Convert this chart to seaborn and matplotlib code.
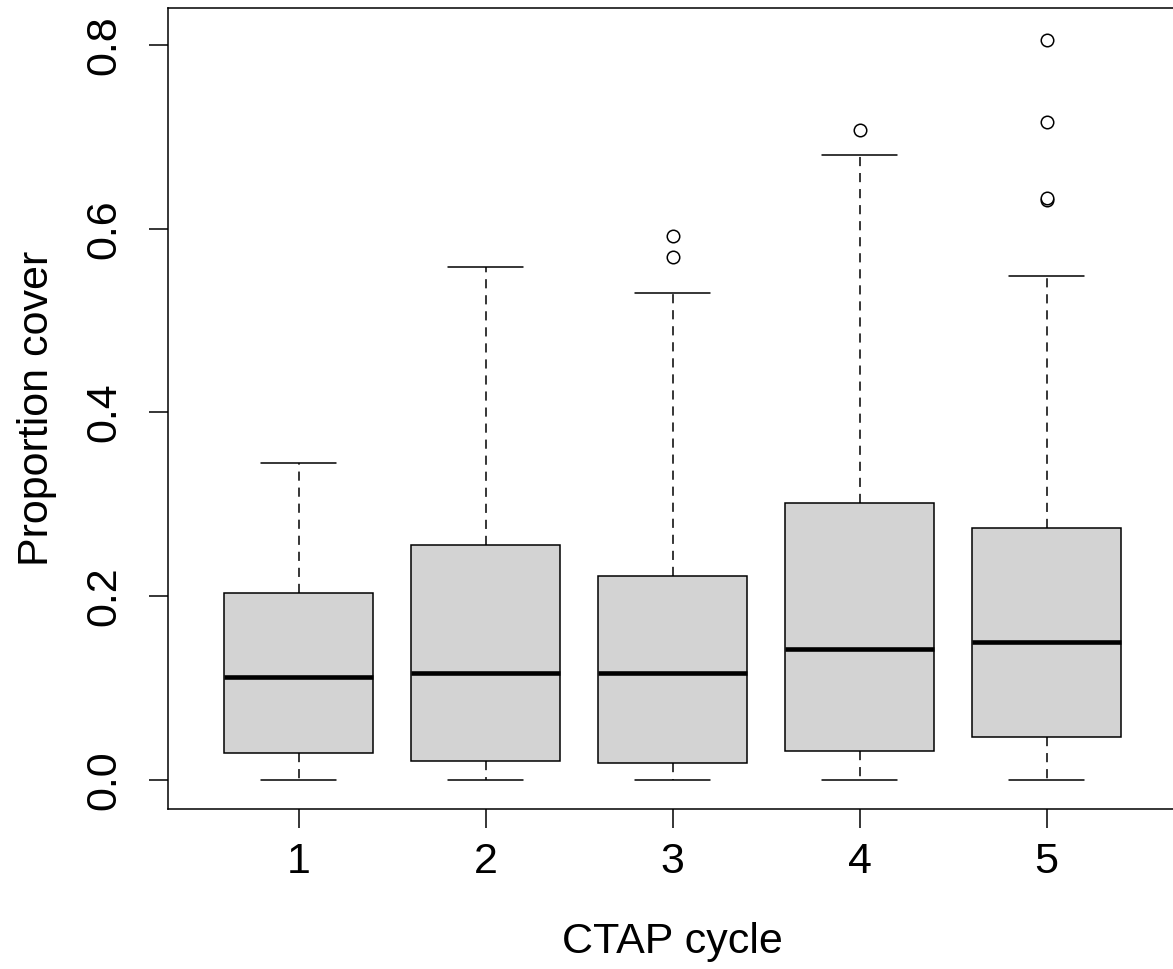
import numpy as np
import pandas as pd
import matplotlib
matplotlib.use("Agg")
import matplotlib.pyplot as plt
import seaborn as sns

# Box statistics (R-style boxplot, one box per CTAP cycle)
cycles = ["1", "2", "3", "4", "5"]
whisker_low = [0.0, 0.0, 0.0, 0.0, 0.0]
q1 = [0.029, 0.020, 0.018, 0.031, 0.046]
median = [0.112, 0.116, 0.116, 0.142, 0.150]
q3 = [0.2035, 0.2555, 0.222, 0.301, 0.2744]
whisker_high = [0.345, 0.558, 0.530, 0.680, 0.549]
outliers = [[], [], [0.569, 0.592], [0.708], [0.631, 0.633, 0.716, 0.806]]

sns.set_theme(style="ticks")
plt.rcParams['font.family'] = ['Liberation Sans', 'DejaVu Sans']

stats = []
for i, c in enumerate(cycles):
    stats.append({
        "label": c,
        "whislo": whisker_low[i],
        "q1": q1[i],
        "med": median[i],
        "q3": q3[i],
        "whishi": whisker_high[i],
        "fliers": outliers[i],
    })

fig = plt.figure(figsize=(11.73, 9.69), dpi=100)
ax = fig.add_axes([0.143, 0.1648, 0.8609, 0.8266])

lw = 1.1
ax.bxp(stats, positions=range(1, 6), widths=0.8, capwidths=0.4, patch_artist=True,
       boxprops=dict(facecolor="#d3d3d3", edgecolor="black", linewidth=lw),
       medianprops=dict(color="black", linewidth=3.3, solid_capstyle="butt"),
       whiskerprops=dict(color="black", linewidth=lw, linestyle=(0, (6, 4.5))),
       capprops=dict(color="black", linewidth=lw),
       flierprops=dict(marker="o", markersize=9, markerfacecolor="white",
                       markeredgecolor="black", markeredgewidth=1.1))

ax.set_xlim(0.3, 5.7)
ax.set_ylim(-0.0322, 0.840)
ax.set_yticks([0.0, 0.2, 0.4, 0.6, 0.8])
ax.set_yticklabels(["0.0", "0.2", "0.4", "0.6", "0.8"], rotation=90, va="center")
ax.set_xticks(range(1, 6))
ax.set_xticklabels(cycles)

ax.tick_params(axis="both", labelsize=31, length=13.5, width=1.1, color="black",
               labelcolor="black", direction="out")
ax.tick_params(axis="x", pad=10)
ax.tick_params(axis="y", pad=18)

for side in ["left", "bottom", "top"]:
    ax.spines[side].set_color("black")
    ax.spines[side].set_linewidth(1.1)
ax.spines["right"].set_visible(False)

ax.set_xlabel("CTAP cycle", fontsize=31, color="black")
ax.set_ylabel("Proportion cover", fontsize=31, color="black")
ax.xaxis.set_label_coords(0.4995, -0.141)
ax.yaxis.set_label_coords(-0.11, 0.5)

fig.savefig("out.png", dpi=100, facecolor="white")
